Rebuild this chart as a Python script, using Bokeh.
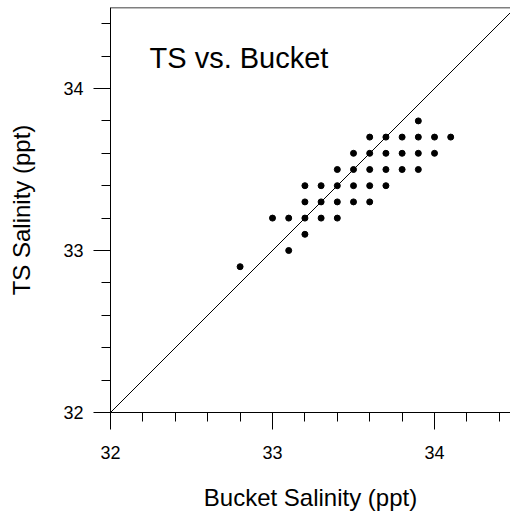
from bokeh.plotting import figure
from bokeh.models import Range1d, SingleIntervalTicker, Span
from bokeh.embed import file_html
from bokeh.resources import INLINE
from bokeh.core.properties import value

# Data: bucket salinity (x) vs TS salinity (y), ppt
bucket = [32.8, 33.0, 33.1, 33.1,
          33.2, 33.2, 33.2, 33.2,
          33.3, 33.3, 33.3,
          33.4, 33.4, 33.4, 33.4,
          33.5, 33.5, 33.5, 33.5,
          33.6, 33.6, 33.6, 33.6, 33.6,
          33.7, 33.7, 33.7, 33.7,
          33.8, 33.8, 33.8,
          33.9, 33.9, 33.9, 33.9,
          34.0, 34.0,
          34.1]
ts = [32.9, 33.2, 33.2, 33.0,
      33.1, 33.2, 33.3, 33.4,
      33.2, 33.3, 33.4,
      33.2, 33.3, 33.4, 33.5,
      33.3, 33.4, 33.5, 33.6,
      33.3, 33.4, 33.5, 33.6, 33.7,
      33.4, 33.5, 33.6, 33.7,
      33.5, 33.6, 33.7,
      33.5, 33.6, 33.7, 33.8,
      33.6, 33.7,
      33.7]
one_to_one = [32.0, 34.5]

title_text = "TS vs. Bucket"
x_label = "Bucket Salinity (ppt)"
y_label = "TS Salinity (ppt)"

FONT = "Liberation Sans"

p = figure(width=510, height=519, output_backend="svg", toolbar_location=None,
           x_range=Range1d(32, 34.469), y_range=Range1d(32, 34.5),
           min_border_left=110, min_border_right=0, min_border_top=7,
           min_border_bottom=107)
p.outline_line_color = None
p.xgrid.visible = False
p.ygrid.visible = False
p.background_fill_color = "white"
p.border_fill_color = "white"

for ax in (p.xaxis[0], p.yaxis[0]):
    ax.ticker = SingleIntervalTicker(interval=1, num_minor_ticks=5)
    ax.axis_line_color = "black"
    ax.axis_line_width = 1
    ax.major_tick_line_color = "black"
    ax.minor_tick_line_color = "black"
    ax.major_tick_in = 0
    ax.major_tick_out = 17
    ax.minor_tick_in = 0
    ax.minor_tick_out = 9
    ax.major_label_text_font = FONT
    ax.major_label_text_font_size = "18px"
    ax.major_label_text_color = "black"
    ax.axis_label_text_font = FONT
    ax.axis_label_text_font_size = "24px"
    ax.axis_label_text_font_style = "normal"
    ax.axis_label_text_color = "black"

p.xaxis.axis_label = x_label
p.yaxis.axis_label = y_label
p.xaxis.major_label_standoff = 16
p.yaxis.major_label_standoff = 10
p.xaxis.axis_label_standoff = 22
p.yaxis.axis_label_standoff = 25

p.add_layout(Span(location=34.5, dimension="width", line_color="black", line_width=1.5))

p.line(one_to_one, one_to_one, line_color="black", line_width=1)
p.scatter(bucket, ts, size=6, color="black")

p.text(x=[32.241], y=[34.186], text=[title_text], text_font=value(FONT),
       text_font_size="29px", text_color="black", text_baseline="alphabetic",
       text_align="left")

open("out.html", "w").write(file_html(p, INLINE))
